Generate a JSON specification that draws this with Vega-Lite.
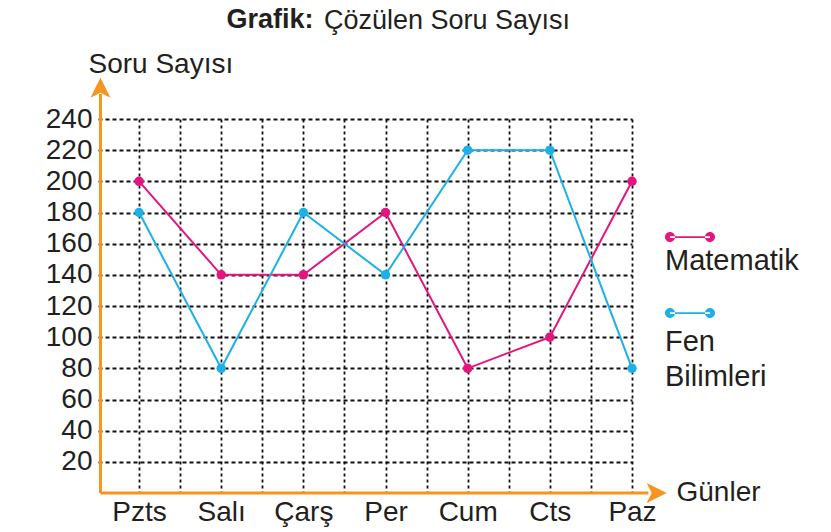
{
  "$schema": "https://vega.github.io/schema/vega-lite/v6.json",
  "width": 534,
  "height": 374,
  "autosize": {"type": "none"},
  "padding": {"left": 98, "top": 119, "right": 199, "bottom": 39},
  "background": "white",
  "title": {
    "text": "Çözülen Soru Sayısı",
    "anchor": "start",
    "frame": "group",
    "dx": 226,
    "dy": 34,
    "fontSize": 27,
    "fontWeight": "normal",
    "color": "#231f20"
  },
  "data": {
    "values": [
      {"gun_no": 0, "gun": "Pzts", "ders": "Matematik", "soru": 200},
      {"gun_no": 1, "gun": "Salı", "ders": "Matematik", "soru": 140},
      {"gun_no": 2, "gun": "Çarş", "ders": "Matematik", "soru": 140},
      {"gun_no": 3, "gun": "Per", "ders": "Matematik", "soru": 180},
      {"gun_no": 4, "gun": "Cum", "ders": "Matematik", "soru": 80},
      {"gun_no": 5, "gun": "Cts", "ders": "Matematik", "soru": 100},
      {"gun_no": 6, "gun": "Paz", "ders": "Matematik", "soru": 200},
      {"gun_no": 0, "gun": "Pzts", "ders": "Fen Bilimleri", "soru": 180},
      {"gun_no": 1, "gun": "Salı", "ders": "Fen Bilimleri", "soru": 80},
      {"gun_no": 2, "gun": "Çarş", "ders": "Fen Bilimleri", "soru": 180},
      {"gun_no": 3, "gun": "Per", "ders": "Fen Bilimleri", "soru": 140},
      {"gun_no": 4, "gun": "Cum", "ders": "Fen Bilimleri", "soru": 220},
      {"gun_no": 5, "gun": "Cts", "ders": "Fen Bilimleri", "soru": 220},
      {"gun_no": 6, "gun": "Paz", "ders": "Fen Bilimleri", "soru": 80}
    ]
  },
  "layer": [
    {
      "mark": {"type": "line", "strokeWidth": 2},
      "encoding": {
        "x": {
          "field": "gun_no",
          "type": "quantitative",
          "scale": {"domain": [-0.5, 6], "nice": false, "zero": false},
          "axis": {
            "values": [0, 0.5, 1, 1.5, 2, 2.5, 3, 3.5, 4, 4.5, 5, 5.5, 6],
            "labelExpr": "datum.value % 1 == 0 ? ['Pzts','Salı','Çarş','Per','Cum','Cts','Paz'][datum.value] : ''",
            "grid": true,
            "gridDash": [3, 3],
            "gridColor": "#111111",
            "gridWidth": 1.8,
            "ticks": false,
            "domain": false,
            "labelFontSize": 28,
            "labelColor": "#231f20",
            "labelPadding": 5,
            "labelFlush": false,
            "labelOverlap": false,
            "title": "Günler",
            "titleFontSize": 28,
            "titleFontWeight": "normal",
            "titleColor": "#231f20",
            "titleAlign": "left",
            "titleBaseline": "alphabetic",
            "titleAnchor": null,
            "titleX": 578,
            "titleY": 7
          }
        },
        "y": {
          "field": "soru",
          "type": "quantitative",
          "scale": {"domain": [0, 240], "nice": false},
          "axis": {
            "values": [20, 40, 60, 80, 100, 120, 140, 160, 180, 200, 220, 240],
            "grid": true,
            "gridDash": [4, 3],
            "gridColor": "#111111",
            "gridWidth": 1.8,
            "ticks": false,
            "domain": false,
            "labelFontSize": 28,
            "labelColor": "#231f20",
            "labelPadding": 6,
            "labelOverlap": false,
            "labelFlush": false,
            "labelBound": false,
            "title": "Soru Sayısı",
            "titleAngle": 0,
            "titleFontSize": 28,
            "titleFontWeight": "normal",
            "titleColor": "#231f20",
            "titleAlign": "left",
            "titleBaseline": "alphabetic",
            "titleAnchor": null,
            "titleX": -10,
            "titleY": -47
          }
        },
        "color": {
          "field": "ders",
          "type": "nominal",
          "scale": {"domain": ["Matematik", "Fen Bilimleri"], "range": ["#e4157f", "#1cb0e8"]},
          "legend": {
            "orient": "none",
            "legendX": 567,
            "legendY": 93,
            "title": null,
            "symbolType": "M-1,0 A0.2,0.2 0 1,0 -0.6,0 A0.2,0.2 0 1,0 -1,0 Z M0.6,0 A0.2,0.2 0 1,0 1,0 A0.2,0.2 0 1,0 0.6,0 Z M-0.8,-0.035 L0.8,-0.035 L0.8,0.035 L-0.8,0.035 Z",
            "symbolSize": 2500,
            "symbolStrokeWidth": 0,
            "labelOffset": -50,
            "labelFontSize": 29,
            "labelColor": "#231f20",
            "labelBaseline": "top",
            "labelLimit": 300,
            "rowPadding": 12,
            "labelExpr": "datum.label == 'Fen Bilimleri' ? ['Fen', 'Bilimleri'] : datum.label",
            "encode": {
              "symbols": {
                "update": {
                  "fill": {"scale": "color", "field": "value"},
                  "stroke": {"scale": "color", "field": "value"},
                  "opacity": {"value": 1}
                }
              },
              "labels": {
                "update": {
                  "dy": {"signal": "datum.label == 'Fen Bilimleri' ? 15 : 10"},
                  "lineHeight": {"value": 35}
                }
              }
            }
          }
        }
      }
    },
    {
      "mark": {"type": "point", "filled": true, "size": 90, "opacity": 1},
      "encoding": {
        "x": {"field": "gun_no", "type": "quantitative", "axis": null},
        "y": {"field": "soru", "type": "quantitative", "axis": null},
        "color": {"field": "ders", "type": "nominal"}
      }
    },
    {
      "data": {"values": [{}]},
      "mark": {"type": "rule", "color": "#f7941d", "strokeWidth": 3},
      "encoding": {
        "x": {
          "datum": -0.47,
          "type": "quantitative",
          "axis": {
            "orient": "top",
            "title": "Grafik:",
            "titleFontWeight": "bold",
            "titleFontSize": 27,
            "titleColor": "#231f20",
            "titleAlign": "left",
            "titleBaseline": "alphabetic",
            "titleAnchor": null,
            "titleX": 128,
            "titleY": -92,
            "labels": false,
            "ticks": false,
            "domain": false,
            "grid": false
          }
        },
        "y": {"datum": 0, "type": "quantitative", "axis": null},
        "y2": {"datum": 256}
      }
    },
    {
      "data": {"values": [{}]},
      "mark": {"type": "rule", "color": "#f7941d", "strokeWidth": 3},
      "encoding": {
        "x": {"datum": -0.47, "type": "quantitative", "axis": null},
        "x2": {"datum": 6.2},
        "y": {"datum": 0, "type": "quantitative", "axis": null}
      }
    },
    {
      "data": {"values": [{}]},
      "mark": {
        "type": "point",
        "shape": "M0,-1 L1,1 L0,0.5 L-1,1 Z",
        "size": 400,
        "filled": true,
        "color": "#f7941d",
        "opacity": 1
      },
      "encoding": {
        "x": {"datum": -0.47, "type": "quantitative", "axis": null},
        "y": {"datum": 260, "type": "quantitative", "axis": null}
      }
    },
    {
      "data": {"values": [{}]},
      "mark": {
        "type": "point",
        "shape": "M1,0 L-1,-1 L-0.5,0 L-1,1 Z",
        "size": 400,
        "filled": true,
        "color": "#f7941d",
        "opacity": 1
      },
      "encoding": {
        "x": {"datum": 6.3, "type": "quantitative", "axis": null},
        "y": {"datum": 0, "type": "quantitative", "axis": null}
      }
    }
  ],
  "resolve": {"axis": {"x": "independent", "y": "independent"}},
  "config": {
    "font": "Liberation Sans",
    "view": {"stroke": null},
    "axis": {"labelOverlap": false}
  }
}
